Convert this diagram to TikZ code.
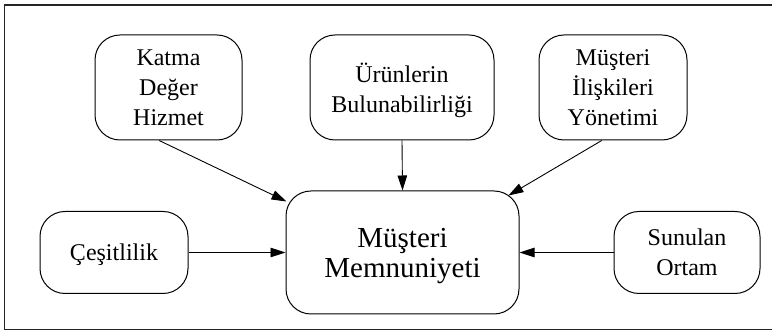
\documentclass[tikz,border=0pt]{standalone}
\usepackage{fontspec}
\setmainfont{Liberation Serif}
\usetikzlibrary{arrows.meta,calc}

\begin{document}
\begin{tikzpicture}[x=1pt,y=1pt,
	kutu/.style={draw,line width=1pt,rounded corners=25pt,align=center,inner sep=0pt,text depth=0pt,font=\fontsize{24}{30}\selectfont},
	ok/.style={-{Triangle[length=15pt,width=9.5pt]},line width=.9pt}]
			\useasboundingbox (0,0) rectangle (772,331);
			\draw[line width=1.4pt,black!85] (772,326) -- (4.5,326) -- (4.5,1.5) -- (772,1.5);
			
			\node[kutu,minimum width=147pt,minimum height=105pt] (katma) at (168.5,243.5) {Katma\\Değer\\Hizmet};
			\node[kutu,minimum width=184pt,minimum height=105pt] (urun) at (402,243.5) {Ürünlerin\\Bulunabilirliği};
			\node[kutu,minimum width=148pt,minimum height=105pt] (iliski) at (613,243.5) {Müşteri\\İlişkileri\\Yönetimi};
			
			\node[kutu,minimum width=148pt,minimum height=82pt] (cesit) at (114,78.5) {Çeşitlilik};
			\node[kutu,minimum width=233pt,minimum height=123pt,font=\fontsize{29}{30}\selectfont] (memnun) at (402.5,78.5) {Müşteri\\Memnuniyeti};
			\node[kutu,minimum width=146pt,minimum height=82pt] (ortam) at (687,78.5) {Sunulan\\Ortam};
			
			\draw[ok] (katma.260) -- ($(memnun.north west)+(1,-11)$);
			\draw[ok] (urun.south) -- (memnun.north);
			\draw[ok] (iliski.258) -- ($(memnun.north east)+(-11,-5)$);
			\draw[ok] (cesit.east) -- (memnun.west);
			\draw[ok] (ortam.west) -- (memnun.east);
\end{tikzpicture}
\end{document}
